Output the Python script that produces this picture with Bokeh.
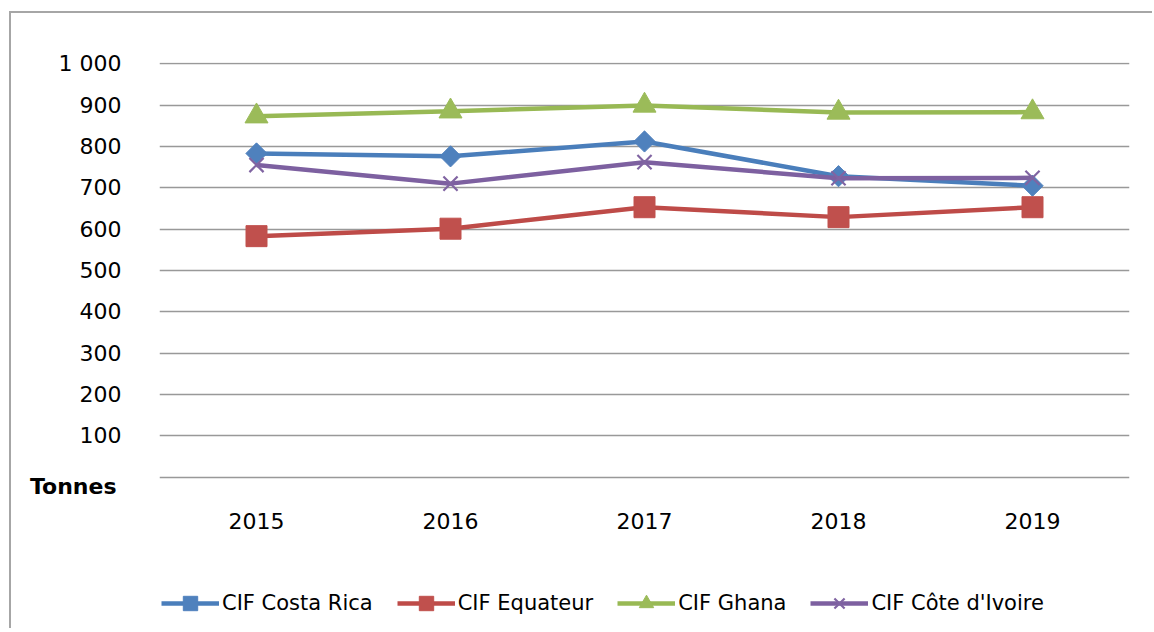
import numpy as np
from bokeh.plotting import figure
from bokeh.models import (Range1d, FixedTicker, Legend, LegendItem, LinearAxis)
from bokeh.embed import file_html
from bokeh.resources import INLINE

# ---- data ----
years = ["2015", "2016", "2017", "2018", "2019"]
costa_rica = [783, 776, 812, 728, 705]
equateur = [583, 601, 653, 629, 653]
ghana = [873, 885, 899, 882, 883]
cote_divoire = [755, 710, 762, 723, 724]
y_ticks = [0, 100, 200, 300, 400, 500, 600, 700, 800, 900, 1000]
y_tick_labels = {0: "", 1000: "1 000"}
unit_label = "Tonnes"
series_names = ["CIF Costa Rica", "CIF Equateur", "CIF Ghana", "CIF Côte d'Ivoire"]

xs = list(range(len(years)))
UNIT_POS = -22      # where the unit caption sits on the value scale
AXIS_POS = -25      # value at which the category axis is drawn

p = figure(frame_width=970, frame_height=566,
           min_border_left=148, min_border_right=23,
           min_border_top=49, min_border_bottom=0,
           x_range=Range1d(-0.5, len(years) - 0.5),
           y_range=Range1d(-366, 1003),
           output_backend="svg", toolbar_location=None)
p.styles = {"margin-left": "9px", "margin-top": "11px",
            "border-top": "2px solid #a6a6a6", "border-left": "2px solid #a6a6a6"}
p.background_fill_color = "white"
p.border_fill_color = "white"
p.outline_line_color = None

FONT = "DejaVu Sans"

def style_axis(ax):
    ax.axis_line_color = None
    ax.major_tick_line_color = None
    ax.minor_tick_line_color = None
    ax.major_tick_out = 0
    ax.major_tick_in = 0
    ax.minor_tick_out = 0
    ax.minor_tick_in = 0
    ax.major_label_text_font = FONT
    ax.major_label_text_font_size = "22px"
    ax.major_label_text_color = "black"

# axes
xax = p.xaxis[0]
xax.ticker = FixedTicker(ticks=xs)
xax.major_label_overrides = {i: y for i, y in enumerate(years)}
style_axis(xax)
xax.fixed_location = AXIS_POS
xax.major_label_standoff = 25

yax = p.yaxis[0]
yax.ticker = FixedTicker(ticks=y_ticks)
yax.major_label_overrides = y_tick_labels
style_axis(yax)
yax.major_label_standoff = 38

unit_axis = LinearAxis(ticker=FixedTicker(ticks=[UNIT_POS]),
                       major_label_overrides={UNIT_POS: unit_label})
style_axis(unit_axis)
unit_axis.major_label_text_font_style = "bold"
unit_axis.major_label_standoff = -61
p.add_layout(unit_axis, "left")

p.xgrid.grid_line_color = None
p.ygrid.ticker = FixedTicker(ticks=y_ticks)
p.ygrid.grid_line_color = "#999999"
p.ygrid.grid_line_width = 1.5

# series
specs = [
    (costa_rica, "#4A7EBB", "#4F81BD", "square", 15, np.pi / 4),
    (equateur, "#BE4B48", "#C0504D", "square", 21, 0),
    (ghana, "#98B954", "#9BBB59", "triangle", 23, 0),
    (cote_divoire, "#7D60A0", "#8064A2", "x", 20, 0),
]
items = []
for name, (vals, lc, mc, marker, size, ang) in zip(series_names, specs):
    ln = p.line(xs, vals, line_color=lc, line_width=4.5)
    if marker == "x":
        sc = p.scatter(xs, vals, marker="x", size=size, line_color=mc, line_width=2.2)
    else:
        sc = p.scatter(xs, vals, marker=marker, size=size, angle=ang,
                       fill_color=mc, line_color=mc, line_width=1)
    items.append(LegendItem(label=name, renderers=[ln, sc]))

legend = Legend(items=items, orientation="horizontal", location=(2, 7),
                ncols=len(items), nrows=1,
                glyph_width=58, glyph_height=36,
                label_text_font=FONT, label_text_font_size="21px",
                label_text_color="black",
                label_standoff=3, spacing=24, padding=0, margin=0,
                border_line_color=None, background_fill_alpha=0)
p.add_layout(legend, "center")

open("out.html", "w").write(file_html(p, INLINE))
